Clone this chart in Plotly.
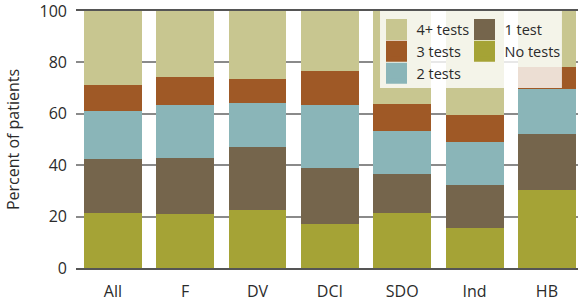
import plotly.graph_objects as go

groups = ["All", "F", "DV", "DCI", "SDO", "Ind", "HB"]
no_tests = [21.4, 20.9, 22.5, 17.0, 21.3, 15.4, 30.3]
one_test = [21.1, 22.0, 24.7, 22.0, 15.3, 16.9, 22.0]
two_tests = [18.5, 20.4, 16.9, 24.3, 16.9, 16.9, 17.3]
three_tests = [10.2, 11.0, 9.4, 13.3, 10.2, 10.2, 8.7]
four_plus = [28.8, 25.7, 26.5, 23.4, 36.3, 40.6, 21.7]
y_ticks = [0, 20, 40, 60, 80, 100]

series = [
    ("No tests", no_tests, "#a5a336", "legend2"),
    ("1 test", one_test, "#75654c", "legend2"),
    ("2 tests", two_tests, "#8ab5b8", "legend"),
    ("3 tests", three_tests, "#9f5926", "legend"),
    ("4+ tests", four_plus, "#c8c690", "legend"),
]

FONT = "Open Sans"
TXT = "#2b2b2b"

fig = go.Figure()
for name, vals, col, lg in series:
    fig.add_trace(go.Bar(x=groups, y=vals, name=name, marker=dict(color=col, line=dict(width=0)),
                         showlegend=False, width=0.8))

# legend entries (square swatches)
legend_order = ["4+ tests", "3 tests", "2 tests", "1 test", "No tests"]
lookup = {s[0]: s for s in series}
for name in legend_order:
    _, _, col, lg = lookup[name]
    fig.add_trace(go.Scatter(x=[None], y=[None], mode="markers", name=name, legend=lg,
                             marker=dict(symbol="square", size=16, color=col,
                                         line=dict(width=5, color=col)),
                             showlegend=True, hoverinfo="skip"))

fig.add_shape(type="rect", xref="paper", yref="paper", x0=0.6056, x1=0.968, y0=0.70, y1=1.0,
              fillcolor="rgba(255,255,255,0.8)", line=dict(width=0), layer="above")

fig.update_layout(
    width=578, height=302,
    margin=dict(l=76, r=0, t=11, b=34),
    paper_bgcolor="white", plot_bgcolor="white",
    barmode="stack", bargap=0.2,
    font=dict(family=FONT, size=16, color=TXT),
    legend=dict(x=0.5986, y=0.99, xanchor="left", yanchor="top", bgcolor="rgba(0,0,0,0)",
                font=dict(size=14.5, color=TXT), itemwidth=30, traceorder="normal"),
    legend2=dict(x=0.7739, y=0.99, xanchor="left", yanchor="top", bgcolor="rgba(0,0,0,0)",
                 font=dict(size=14.5, color=TXT), itemwidth=30, traceorder="normal"),
    xaxis=dict(range=[-0.51, 6.43], showline=True, mirror=True, linecolor="#555555", linewidth=2,
               ticks="", showgrid=False, tickfont=dict(size=16, color=TXT), ticklabelstandoff=8),
    yaxis=dict(range=[0, 100], tickvals=y_ticks, showgrid=True, gridcolor="#8a8a8a", gridwidth=2,
               zeroline=False, showline=False, ticks="", tickfont=dict(size=16, color=TXT),
               ticklabelstandoff=8, ticklabeloverflow="allow",
               title=dict(text="Percent of patients", font=dict(size=16, color=TXT), standoff=15)),
)

fig.write_html("out.html", config={"displayModeBar": False},
               post_script="document.body.style.margin='0px';")
